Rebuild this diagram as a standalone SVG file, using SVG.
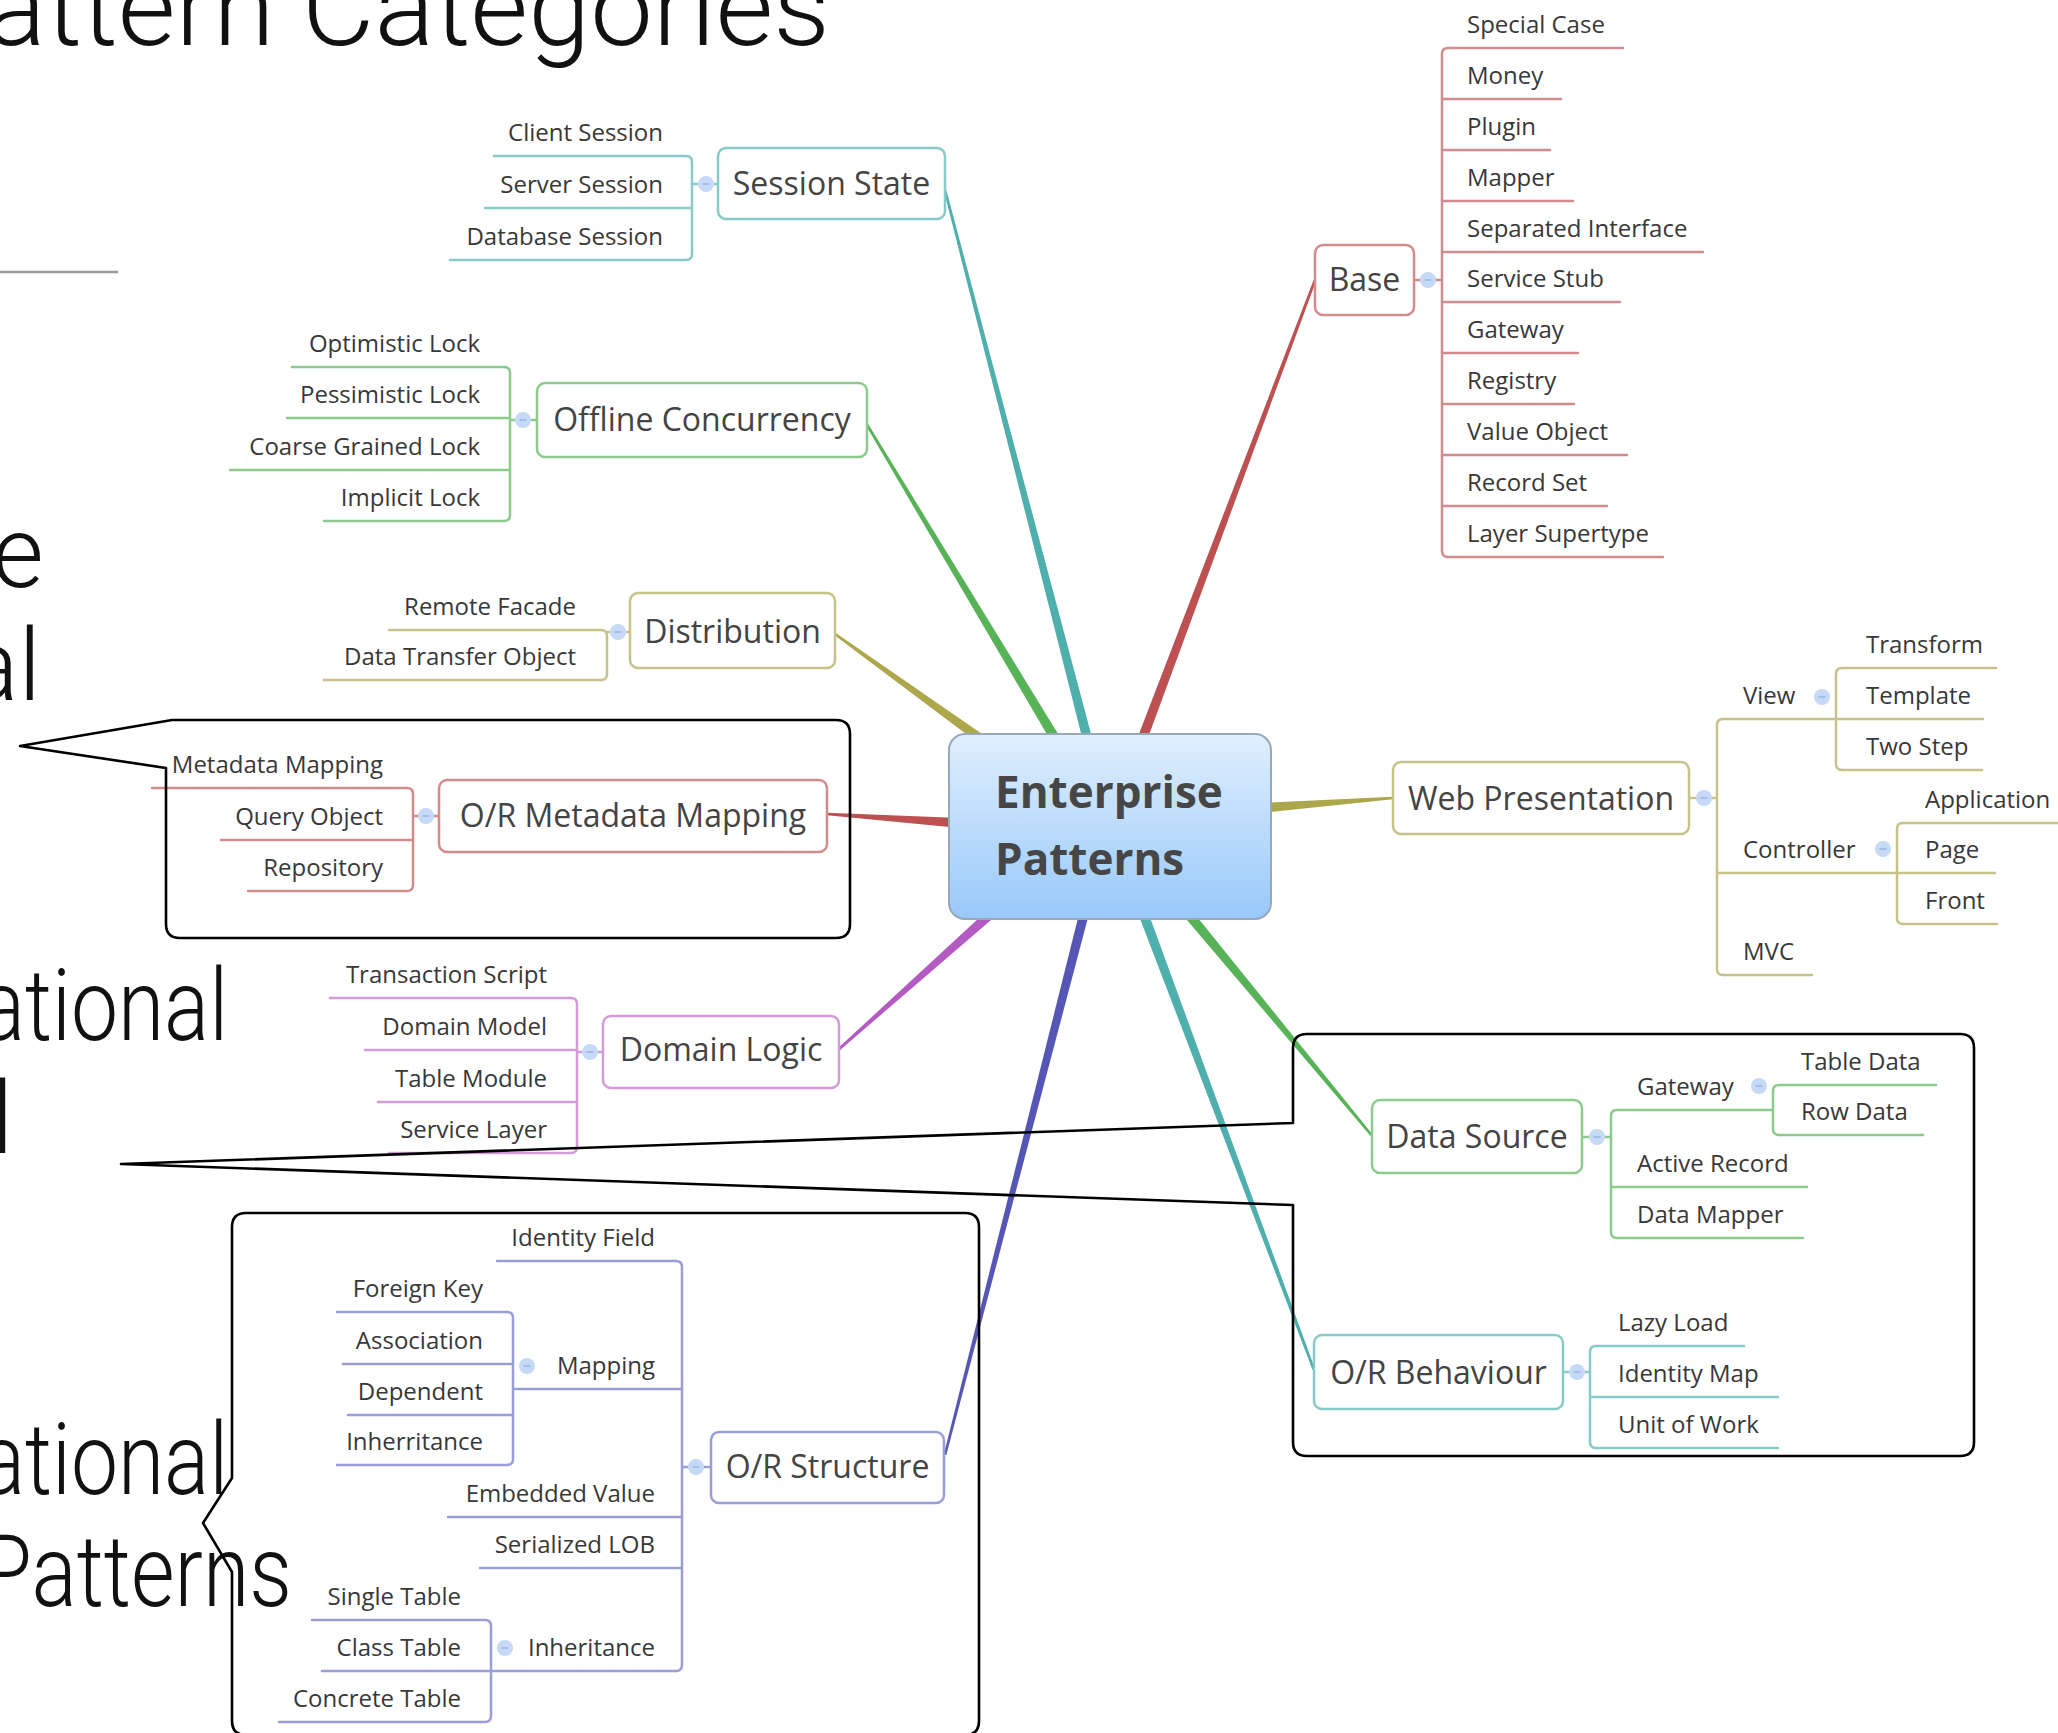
<svg xmlns="http://www.w3.org/2000/svg" width="2058" height="1733" viewBox="0 0 2058 1733">
<defs>
  <linearGradient id="centerFill" x1="0" y1="0" x2="0" y2="1">
    <stop offset="0" stop-color="#e0effe"/>
    <stop offset="1" stop-color="#98c9fa"/>
  </linearGradient>
  <!-- collapse button shown next to every expanded topic -->
  <g id="knob">
    <circle r="8" fill="#c6d9f7"/>
    <line x1="-3.5" y1="0" x2="3.5" y2="0" stroke="#98b2e0" stroke-width="1.4"/>
  </g>
</defs>
<style>
  .slide { font-family: Roboto, "Liberation Sans", sans-serif; font-weight: 300; fill: #111; }
  .root { font-family: "Open Sans", "Noto Sans", sans-serif; font-weight: 700; font-size: 44px; fill: #464646; }
  .topic { font-family: "Open Sans", "Noto Sans", sans-serif; font-size: 32px; fill: #444; text-anchor: middle; }
  .lbl { font-family: "Open Sans", "Noto Sans", sans-serif; font-size: 24px; fill: #383838; }
  .l { text-anchor: end; }
  .box { fill: #fff; stroke-width: 2.5; }
  .ln { fill: none; stroke-width: 2.5; stroke-linecap: round; }
  .teal { stroke: #86cbc7; }
  .green { stroke: #8ccb8c; }
  .olive { stroke: #c6c28a; }
  .red { stroke: #d38c8c; }
  .purple { stroke: #d39bd8; }
  .indigo { stroke: #9a9ed6; }
  .b-teal { fill: #4eafad; }
  .b-green { fill: #58b358; }
  .b-olive { fill: #aba74a; }
  .b-red { fill: #bd5050; }
  .b-purple { fill: #b35ac3; }
  .b-indigo { fill: #5656b5; }
  .callout { fill: none; stroke: #000; stroke-width: 2.6; stroke-linejoin: round; }
</style>

<!-- slide text behind the map -->
<g id="slide-text">
  <text class="slide" x="-14" y="45" font-size="110" textLength="844" lengthAdjust="spacingAndGlyphs">attern Categories</text>
  <line x1="0" y1="272" x2="118" y2="272" stroke="#9a9a9a" stroke-width="2.5"/>
  <text class="slide" x="-8" y="587" font-size="100">e</text>
  <text class="slide" x="-35" y="700" font-size="100">al</text>
  <text class="slide" x="-20" y="1040" font-size="100" textLength="248" lengthAdjust="spacingAndGlyphs">ational</text>
  <text class="slide" x="-9" y="1153" font-size="100">l</text>
  <text class="slide" x="-20" y="1494" font-size="100" textLength="248" lengthAdjust="spacingAndGlyphs">ational</text>
  <text class="slide" x="-20" y="1606" font-size="100" textLength="312" lengthAdjust="spacingAndGlyphs">Patterns</text>
</g>

<!-- connectors: tapered branches, brackets and short links -->
<g id="connectors">
  <polygon class="b-teal" points="943.7,190 946.3,190 1094,745 1084,745"/>
  <polygon class="b-green" points="864.9,423.7 867.1,422.3 1063.3,742.4 1054.7,747.6"/>
  <polygon class="b-olive" points="834.2,635.1 835.8,632.9 987.9,737.9 982.1,746.1"/>
  <polygon class="b-red" points="827,812.7 827,815.3 960,828 960,818"/>
  <polygon class="b-purple" points="837.1,1049 838.9,1051 998.3,913.7 991.7,906.3"/>
  <polygon class="b-indigo" points="943.7,1455 946.3,1455 1090,910 1080,910"/>
  <polygon class="b-teal" points="1312.6,1370 1315.4,1370 1147.3,910 1136.7,910"/>
  <polygon class="b-green" points="1372,1137.8 1374,1136.2 1188.9,906.8 1181.2,913.2"/>
  <polygon class="b-olive" points="1393,796.7 1393,799.3 1260,813 1260,803"/>
  <polygon class="b-red" points="1313.6,280 1316.4,280 1145.3,745 1134.7,745"/>

  <path class="ln teal" d="M686 156Q692 156 692 162V254Q692 260 686 260M692 184H718"/>
  <path class="ln green" d="M504 367Q510 367 510 373V515Q510 521 504 521M510 420H537"/>
  <path class="ln olive" d="M601 630Q607 630 607 636V674Q607 680 601 680M607 632H630"/>
  <path class="ln red" d="M407 788Q413 788 413 794V885Q413 891 407 891M413 816H439"/>
  <path class="ln purple" d="M571 998Q577 998 577 1004V1147Q577 1153 571 1153M577 1052H603"/>
  <path class="ln indigo" d="M676 1261Q682 1261 682 1267V1665Q682 1671 676 1671M682 1467H711"/>
  <path class="ln indigo" d="M507 1312Q513 1312 513 1318V1459Q513 1465 507 1465"/>
  <path class="ln indigo" d="M485 1620Q491 1620 491 1626V1716Q491 1722 485 1722"/>
  <path class="ln red" d="M1448 48Q1442 48 1442 54V551Q1442 557 1448 557M1414 280H1442"/>
  <path class="ln olive" d="M1723 719Q1717 719 1717 725V969Q1717 975 1723 975M1689 798H1717"/>
  <path class="ln olive" d="M1842 668Q1836 668 1836 674V764Q1836 770 1842 770"/>
  <path class="ln olive" d="M1903 823Q1897 823 1897 829V918Q1897 924 1903 924"/>
  <path class="ln green" d="M1617 1110Q1611 1110 1611 1116V1232Q1611 1238 1617 1238M1582 1137H1611"/>
  <path class="ln green" d="M1779 1085Q1773 1085 1773 1091V1129Q1773 1135 1779 1135"/>
  <path class="ln teal" d="M1596 1346Q1590 1346 1590 1352V1442Q1590 1448 1596 1448M1563 1372H1590"/>
</g>

<!-- central topic -->
<g id="enterprise-patterns">
  <rect x="949" y="734" width="322" height="185" rx="16" fill="url(#centerFill)" stroke="#98a8b8" stroke-width="2"/>
  <text class="root" x="995" y="808">Enterprise</text>
  <text class="root" x="995" y="875">Patterns</text>
</g>

<!-- Session State -->
<g id="session-state">
  <rect class="box teal" x="718" y="148" width="227" height="71" rx="8"/>
  <text class="topic" x="831.5" y="195">Session State</text>
  <use href="#knob" x="706" y="184"/>
  <g id="client-session"><text class="lbl l" x="663" y="141">Client Session</text><path class="ln teal" d="M494 156H686"/></g>
  <g id="server-session"><text class="lbl l" x="663" y="193">Server Session</text><path class="ln teal" d="M485 208H692"/></g>
  <g id="database-session"><text class="lbl l" x="663" y="245">Database Session</text><path class="ln teal" d="M450 260H686"/></g>
</g>

<!-- Offline Concurrency -->
<g id="offline-concurrency">
  <rect class="box green" x="537" y="383" width="330" height="74" rx="8"/>
  <text class="topic" x="702" y="431">Offline Concurrency</text>
  <use href="#knob" x="523" y="420"/>
  <g id="optimistic-lock"><text class="lbl l" x="480" y="352">Optimistic Lock</text><path class="ln green" d="M292 367H504"/></g>
  <g id="pessimistic-lock"><text class="lbl l" x="480" y="403">Pessimistic Lock</text><path class="ln green" d="M287 418H510"/></g>
  <g id="coarse-grained-lock"><text class="lbl l" x="480" y="455">Coarse Grained Lock</text><path class="ln green" d="M230 470H510"/></g>
  <g id="implicit-lock"><text class="lbl l" x="480" y="506">Implicit Lock</text><path class="ln green" d="M324 521H504"/></g>
</g>

<!-- Distribution -->
<g id="distribution">
  <rect class="box olive" x="630" y="593" width="205" height="75" rx="8"/>
  <text class="topic" x="732.5" y="643">Distribution</text>
  <use href="#knob" x="618" y="632"/>
  <g id="remote-facade"><text class="lbl l" x="576" y="615">Remote Facade</text><path class="ln olive" d="M389 630H601"/></g>
  <g id="data-transfer-object"><text class="lbl l" x="576" y="665">Data Transfer Object</text><path class="ln olive" d="M324 680H601"/></g>
</g>

<!-- O/R Metadata Mapping -->
<g id="or-metadata-mapping">
  <rect class="box red" x="439" y="780" width="388" height="72" rx="8"/>
  <text class="topic" x="633" y="827">O/R Metadata Mapping</text>
  <use href="#knob" x="426" y="816"/>
  <g id="metadata-mapping"><text class="lbl l" x="383" y="773">Metadata Mapping</text><path class="ln red" d="M152 788H407"/></g>
  <g id="query-object"><text class="lbl l" x="383" y="825">Query Object</text><path class="ln red" d="M221 840H413"/></g>
  <g id="repository"><text class="lbl l" x="383" y="876">Repository</text><path class="ln red" d="M248 891H407"/></g>
</g>

<!-- Domain Logic -->
<g id="domain-logic">
  <rect class="box purple" x="603" y="1016" width="236" height="72" rx="8"/>
  <text class="topic" x="721" y="1061">Domain Logic</text>
  <use href="#knob" x="590" y="1052"/>
  <g id="transaction-script"><text class="lbl l" x="547" y="983">Transaction Script</text><path class="ln purple" d="M330 998H571"/></g>
  <g id="domain-model"><text class="lbl l" x="547" y="1035">Domain Model</text><path class="ln purple" d="M365 1050H577"/></g>
  <g id="table-module"><text class="lbl l" x="547" y="1087">Table Module</text><path class="ln purple" d="M378 1102H577"/></g>
  <g id="service-layer"><text class="lbl l" x="547" y="1138">Service Layer</text><path class="ln purple" d="M389 1153H571"/></g>
</g>

<!-- O/R Structure -->
<g id="or-structure">
  <rect class="box indigo" x="711" y="1432" width="233" height="71" rx="8"/>
  <text class="topic" x="827.5" y="1478">O/R Structure</text>
  <use href="#knob" x="696" y="1467"/>
  <g id="identity-field"><text class="lbl l" x="655" y="1246">Identity Field</text><path class="ln indigo" d="M497 1261H676"/></g>
  <g id="mapping">
    <text class="lbl l" x="655" y="1374">Mapping</text><path class="ln indigo" d="M513 1389H682"/>
    <use href="#knob" x="527" y="1366"/>
    <g id="foreign-key"><text class="lbl l" x="483" y="1297">Foreign Key</text><path class="ln indigo" d="M337 1312H507"/></g>
    <g id="association"><text class="lbl l" x="483" y="1349">Association</text><path class="ln indigo" d="M343 1364H513"/></g>
    <g id="dependent"><text class="lbl l" x="483" y="1400">Dependent</text><path class="ln indigo" d="M348 1415H513"/></g>
    <g id="inherritance"><text class="lbl l" x="483" y="1450">Inherritance</text><path class="ln indigo" d="M337 1465H507"/></g>
  </g>
  <g id="embedded-value"><text class="lbl l" x="655" y="1502">Embedded Value</text><path class="ln indigo" d="M448 1517H682"/></g>
  <g id="serialized-lob"><text class="lbl l" x="655" y="1553">Serialized LOB</text><path class="ln indigo" d="M480 1568H682"/></g>
  <g id="inheritance">
    <text class="lbl l" x="655" y="1656">Inheritance</text><path class="ln indigo" d="M491 1671H676"/>
    <use href="#knob" x="505" y="1648"/>
    <g id="single-table"><text class="lbl l" x="461" y="1605">Single Table</text><path class="ln indigo" d="M312 1620H485"/></g>
    <g id="class-table"><text class="lbl l" x="461" y="1656">Class Table</text><path class="ln indigo" d="M322 1671H491"/></g>
    <g id="concrete-table"><text class="lbl l" x="461" y="1707">Concrete Table</text><path class="ln indigo" d="M279 1722H485"/></g>
  </g>
</g>

<!-- Base -->
<g id="base">
  <rect class="box red" x="1315" y="245" width="99" height="70" rx="8"/>
  <text class="topic" x="1364.5" y="291">Base</text>
  <use href="#knob" x="1428" y="280"/>
  <g id="special-case"><text class="lbl" x="1467" y="33">Special Case</text><path class="ln red" d="M1448 48H1623"/></g>
  <g id="money"><text class="lbl" x="1467" y="84">Money</text><path class="ln red" d="M1442 99H1561"/></g>
  <g id="plugin"><text class="lbl" x="1467" y="135">Plugin</text><path class="ln red" d="M1442 150H1550"/></g>
  <g id="mapper"><text class="lbl" x="1467" y="186">Mapper</text><path class="ln red" d="M1442 201H1573"/></g>
  <g id="separated-interface"><text class="lbl" x="1467" y="237">Separated Interface</text><path class="ln red" d="M1442 252H1703"/></g>
  <g id="service-stub"><text class="lbl" x="1467" y="287">Service Stub</text><path class="ln red" d="M1442 302H1620"/></g>
  <g id="gateway-base"><text class="lbl" x="1467" y="338">Gateway</text><path class="ln red" d="M1442 353H1578"/></g>
  <g id="registry"><text class="lbl" x="1467" y="389">Registry</text><path class="ln red" d="M1442 404H1574"/></g>
  <g id="value-object"><text class="lbl" x="1467" y="440">Value Object</text><path class="ln red" d="M1442 455H1627"/></g>
  <g id="record-set"><text class="lbl" x="1467" y="491">Record Set</text><path class="ln red" d="M1442 506H1607"/></g>
  <g id="layer-supertype"><text class="lbl" x="1467" y="542">Layer Supertype</text><path class="ln red" d="M1448 557H1663"/></g>
</g>

<!-- Web Presentation -->
<g id="web-presentation">
  <rect class="box olive" x="1393" y="762" width="296" height="72" rx="8"/>
  <text class="topic" x="1541" y="810">Web Presentation</text>
  <use href="#knob" x="1704" y="798"/>
  <g id="view">
    <text class="lbl" x="1743" y="704">View</text><path class="ln olive" d="M1723 719H1836"/>
    <use href="#knob" x="1822" y="697"/>
    <g id="transform"><text class="lbl" x="1866" y="653">Transform</text><path class="ln olive" d="M1842 668H1996"/></g>
    <g id="template"><text class="lbl" x="1866" y="704">Template</text><path class="ln olive" d="M1836 719H1983"/></g>
    <g id="two-step"><text class="lbl" x="1866" y="755">Two Step</text><path class="ln olive" d="M1842 770H1982"/></g>
  </g>
  <g id="controller">
    <text class="lbl" x="1743" y="858">Controller</text><path class="ln olive" d="M1717 873H1897"/>
    <use href="#knob" x="1883" y="849"/>
    <g id="application"><text class="lbl" x="1925" y="808">Application</text><path class="ln olive" d="M1903 823H2070"/></g>
    <g id="page"><text class="lbl" x="1925" y="858">Page</text><path class="ln olive" d="M1897 873H1995"/></g>
    <g id="front"><text class="lbl" x="1925" y="909">Front</text><path class="ln olive" d="M1903 924H1997"/></g>
  </g>
  <g id="mvc"><text class="lbl" x="1743" y="960">MVC</text><path class="ln olive" d="M1723 975H1812"/></g>
</g>

<!-- Data Source -->
<g id="data-source">
  <rect class="box green" x="1372" y="1100" width="210" height="73" rx="8"/>
  <text class="topic" x="1477" y="1148">Data Source</text>
  <use href="#knob" x="1597" y="1137"/>
  <g id="gateway">
    <text class="lbl" x="1637" y="1095">Gateway</text><path class="ln green" d="M1617 1110H1773"/>
    <use href="#knob" x="1759" y="1086"/>
    <g id="table-data"><text class="lbl" x="1801" y="1070">Table Data</text><path class="ln green" d="M1779 1085H1936"/></g>
    <g id="row-data"><text class="lbl" x="1801" y="1120">Row Data</text><path class="ln green" d="M1779 1135H1923"/></g>
  </g>
  <g id="active-record"><text class="lbl" x="1637" y="1172">Active Record</text><path class="ln green" d="M1611 1187H1807"/></g>
  <g id="data-mapper"><text class="lbl" x="1637" y="1223">Data Mapper</text><path class="ln green" d="M1617 1238H1803"/></g>
</g>

<!-- O/R Behaviour -->
<g id="or-behaviour">
  <rect class="box teal" x="1314" y="1335" width="249" height="74" rx="8"/>
  <text class="topic" x="1438.5" y="1384">O/R Behaviour</text>
  <use href="#knob" x="1577" y="1372"/>
  <g id="lazy-load"><text class="lbl" x="1618" y="1331">Lazy Load</text><path class="ln teal" d="M1596 1346H1744"/></g>
  <g id="identity-map"><text class="lbl" x="1618" y="1382">Identity Map</text><path class="ln teal" d="M1590 1397H1778"/></g>
  <g id="unit-of-work"><text class="lbl" x="1618" y="1433">Unit of Work</text><path class="ln teal" d="M1596 1448H1778"/></g>
</g>

<!-- callout outlines pointing back to the slide text -->
<g id="callouts">
  <path class="callout" d="M172 720L20 746L166 768V924Q166 938 180 938H836Q850 938 850 924V734Q850 720 836 720Z"/>
  <path class="callout" d="M1293 1123L121 1164L1293 1205V1442Q1293 1456 1307 1456H1960Q1974 1456 1974 1442V1048Q1974 1034 1960 1034H1307Q1293 1034 1293 1048Z"/>
  <path class="callout" d="M232 1478L203 1523L232 1572V1721Q232 1735 246 1735H965Q979 1735 979 1721V1227Q979 1213 965 1213H246Q232 1213 232 1227Z"/>
</g>
</svg>
